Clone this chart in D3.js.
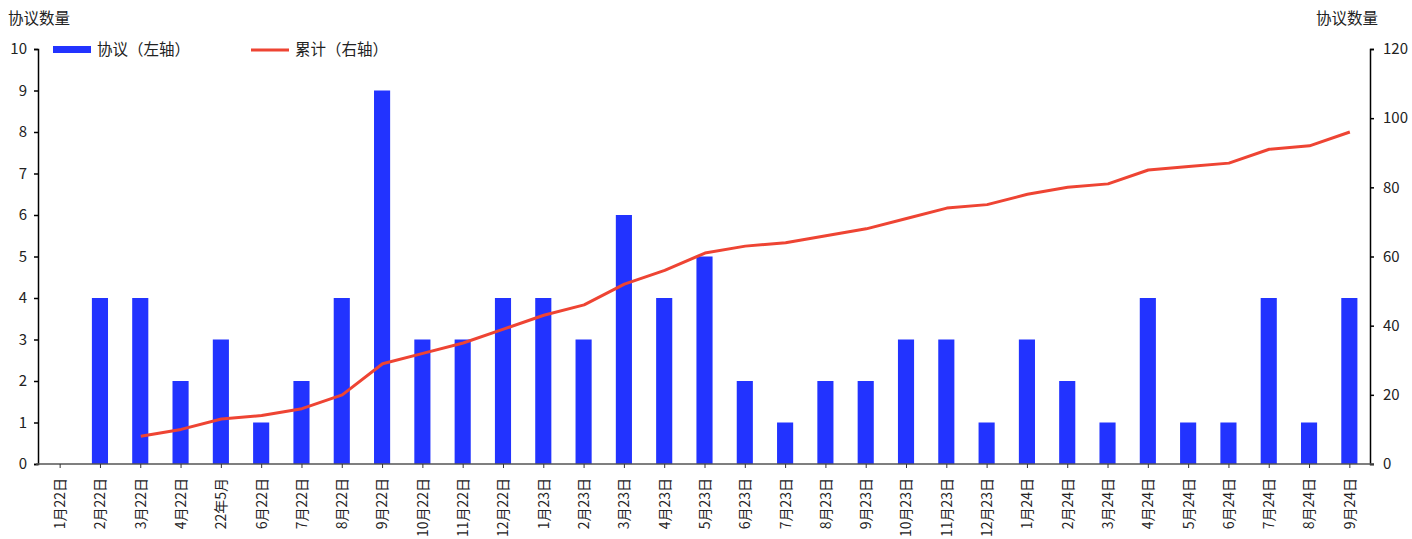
<!DOCTYPE html>
<html>
<head>
<meta charset="utf-8">
<script src="https://cdn.jsdelivr.net/npm/d3@7"></script>
<style>
  body { margin: 0; background: #fff; }
  text { font-family: "Microsoft YaHei", "Noto Sans CJK SC", sans-serif; fill: #222; }
</style>
</head>
<body>
<div id="chart"></div>
<script>
// 类别
var categories = ["1月22日","2月22日","3月22日","4月22日","22年5月","6月22日","7月22日","8月22日","9月22日","10月22日","11月22日","12月22日",
  "1月23日","2月23日","3月23日","4月23日","5月23日","6月23日","7月23日","8月23日","9月23日","10月23日","11月23日","12月23日",
  "1月24日","2月24日","3月24日","4月24日","5月24日","6月24日","7月24日","8月24日","9月24日"];
// 协议（左轴）
var deals = [0,4,4,2,3,1,2,4,9,3,3,4,4,3,6,4,5,2,1,2,2,3,3,1,3,2,1,4,1,1,4,1,4];
// 累计（右轴）, 从3月22日开始
var cumulative = [null,null,8,10,13,14,16,20,29,32,35,39,43,46,52,56,61,63,64,66,68,71,74,75,78,80,81,85,86,87,91,92,96];
var leftTicks = [0,1,2,3,4,5,6,7,8,9,10];
var rightTicks = [0,20,40,60,80,100,120];

var W = 1412, H = 539;
var plotLeft = 40, plotRight = 1370, plotTop = 49, plotBottom = 464;

var svg = d3.select("#chart").append("svg")
  .attr("width", W)
  .attr("height", H);

var x = d3.scaleBand().domain(categories).range([plotLeft, plotRight]).paddingInner(0.6).paddingOuter(0.3);
var y = d3.scaleLinear().domain([0, 10]).range([plotBottom, plotTop]);
var y2 = d3.scaleLinear().domain([0, 120]).range([plotBottom, plotTop]);

// 柱
svg.selectAll(".bar")
  .data(deals)
  .enter()
  .append("rect")
  .attr("class", "bar")
  .attr("x", function(d, i) { return x(categories[i]) - 0.5; })
  .attr("y", function(d) { return y(d); })
  .attr("width", x.bandwidth())
  .attr("height", function(d) { return plotBottom - y(d); })
  .attr("fill", "#2233ff");

// 折线
var line = d3.line()
  .defined(function(d) { return d != null; })
  .x(function(d, i) { return x(categories[i]) + x.bandwidth() / 2; })
  .y(function(d) { return y2(d); });

svg.append("path")
  .datum(cumulative)
  .attr("d", line)
  .attr("fill", "none")
  .attr("stroke", "#ee4433")
  .attr("stroke-width", 3)
  .attr("stroke-linejoin", "round");

// 左轴
var gl = svg.append("g")
  .attr("transform", "translate(" + (plotLeft - 2) + ",0)")
  .call(d3.axisLeft(y).tickValues(leftTicks).tickSize(4).tickPadding(7));
// 右轴
var gr = svg.append("g")
  .attr("transform", "translate(" + plotRight + ",0)")
  .call(d3.axisRight(y2).tickValues(rightTicks).tickSize(4).tickPadding(9));
// 横轴
var gx = svg.append("g")
  .attr("transform", "translate(0," + plotBottom + ")")
  .call(d3.axisBottom(x).tickSize(4).tickPadding(0).tickSizeOuter(0));

[gl, gr].forEach(function(g) {
  g.select(".domain").attr("stroke", "#000").attr("stroke-width", 1.5);
  g.selectAll(".tick line").attr("stroke", "#000").attr("stroke-width", 1.5);
  g.selectAll("text").style("font-size", "15px").attr("fill", "#111");
});
gx.select(".domain").attr("stroke", "#555").attr("stroke-width", 1.5)
  .attr("d", "M" + (plotLeft - 4) + ",0H" + (plotRight + 4));
gx.selectAll(".tick line").attr("stroke", "#333").attr("stroke-width", 1);
gx.selectAll(".tick text")
  .style("font-size", "14px")
  .attr("fill", "#111")
  .attr("text-anchor", "end")
  .attr("dy", "0.35em")
  .attr("transform", "translate(0,14) rotate(-90)")
  .attr("x", 0)
  .attr("y", 0);

// 轴标题
svg.append("text").attr("x", 8).attr("y", 24).style("font-size", "15.5px").attr("fill", "#444").text("协议数量");
svg.append("text").attr("x", 1316).attr("y", 24).style("font-size", "15.5px").attr("fill", "#444").text("协议数量");

// 图例
svg.append("rect").attr("x", 53).attr("y", 46).attr("width", 38).attr("height", 7).attr("fill", "#2233ff");
svg.append("text").attr("x", 97).attr("y", 55).style("font-size", "15.5px").attr("fill", "#444").text("协议（左轴）");
svg.append("line").attr("x1", 251).attr("x2", 289).attr("y1", 50).attr("y2", 50)
  .attr("stroke", "#ee4433").attr("stroke-width", 3);
svg.append("text").attr("x", 295).attr("y", 55).style("font-size", "15.5px").attr("fill", "#444").text("累计（右轴）");
</script>
</body>
</html>
